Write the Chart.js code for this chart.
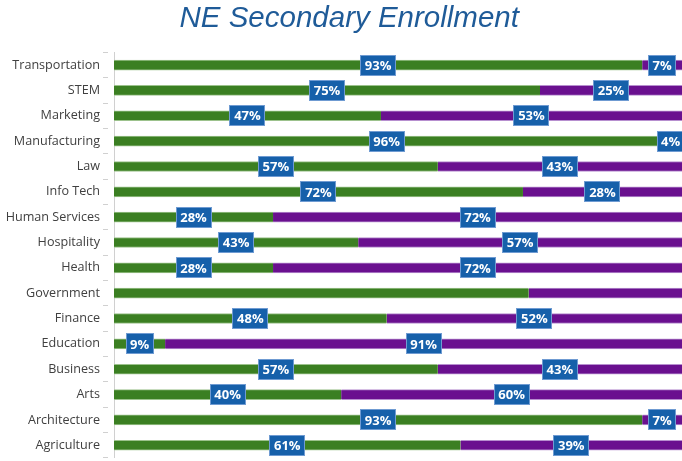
<!DOCTYPE html>
<html>
<head>
<meta charset="utf-8">
<script src="https://cdn.jsdelivr.net/npm/chart.js@4"></script>
<style>
  html, body { margin: 0; padding: 0; background: #fff; }
  #wrap { width: 682px; height: 461px; }
</style>
</head>
<body>
<div id="wrap"><canvas id="chart" width="682" height="461"></canvas></div>
<script>
// --- DATA ---
const categories = ['Transportation', 'STEM', 'Marketing', 'Manufacturing', 'Law', 'Info Tech',
  'Human Services', 'Hospitality', 'Health', 'Government', 'Finance', 'Education',
  'Business', 'Arts', 'Architecture', 'Agriculture'];
const greenValues = [93, 75, 47, 96, 57, 72, 28, 43, 28, 73, 48, 9, 57, 40, 93, 61];
const purpleValues = [7, 25, 53, 4, 43, 28, 72, 57, 72, 27, 52, 91, 43, 60, 7, 39];
const unlabeled = ['Government'];

// --- COLOURS ---
const colors = {
    green: '#3b7f22',
    purple: '#6a108f',
    box: '#1660aa',
    boxBorder: '#6f9bd2',
    title: '#1f5b98'
};

// value boxes drawn centred on each segment
const boxLabels = {
    id: 'boxLabels',
    afterDatasetsDraw(chart) {
        const ctx = chart.ctx;
        ctx.save();
        ctx.font = 'bold 13px "Open Sans", sans-serif';
        ctx.textAlign = 'center';
        ctx.textBaseline = 'middle';
        chart.data.datasets.forEach((ds, di) => {
            chart.getDatasetMeta(di).data.forEach((bar, i) => {
                if (unlabeled.includes(categories[i])) return;
                const text = ds.data[i] + '%';
                const cx = (bar.x + bar.base) / 2;
                const cy = bar.y;
                const w = Math.round(ctx.measureText(text).width + 9);
                const h = 21;
                const x0 = Math.round(cx - w / 2), y0 = Math.round(cy - h / 2);
                ctx.fillStyle = colors.box;
                ctx.fillRect(x0, y0, w, h);
                ctx.strokeStyle = colors.boxBorder;
                ctx.lineWidth = 1;
                ctx.strokeRect(x0 + 0.5, y0 + 0.5, w - 1, h - 1);
                ctx.fillStyle = '#ffffff';
                ctx.fillText(text, cx, cy + 1);
            });
        });
        ctx.restore();
    }
};

const ctx = document.getElementById('chart').getContext('2d');
new Chart(ctx, {
    type: 'bar',
    data: {
        labels: categories,
        datasets: [
            { label: 'Green', data: greenValues, backgroundColor: colors.green, borderColor: '#9cc28c', borderWidth: { top: 1, bottom: 1 }, barThickness: 10 },
            { label: 'Purple', data: purpleValues, backgroundColor: colors.purple, borderColor: '#b78fcf', borderWidth: { top: 1, bottom: 1 }, barThickness: 10 }
        ]
    },
    options: {
        indexAxis: 'y',
        responsive: false,
        animation: false,
        layout: { padding: { left: 0, right: 0, top: 0, bottom: 3 } },
        scales: {
            x: { stacked: true, min: 0, max: 100, display: false },
            y: {
                stacked: true,
                afterFit(scale) { scale.width = 114; },
                grid: { drawOnChartArea: false, tickLength: 11, tickBorderDash: [5, 30], color: '#d0d0d0', offset: true },
                border: { color: '#d0d0d0' },
                ticks: { color: '#404040', font: { family: '"Open Sans", sans-serif', size: 12.6, lineHeight: 0.01 }, padding: 3 }
            }
        },
        plugins: {
            legend: { display: false },
            tooltip: { enabled: false },
            title: {
                display: true,
                text: '\u00a0\u00a0NE Secondary Enrollment',
                color: colors.title,
                font: { family: '"Liberation Sans", Arial, sans-serif', size: 29.5, style: 'italic', weight: 'normal' },
                padding: { top: 1, bottom: 16 }
            }
        }
    },
    plugins: [boxLabels]
});
</script>
</body>
</html>
